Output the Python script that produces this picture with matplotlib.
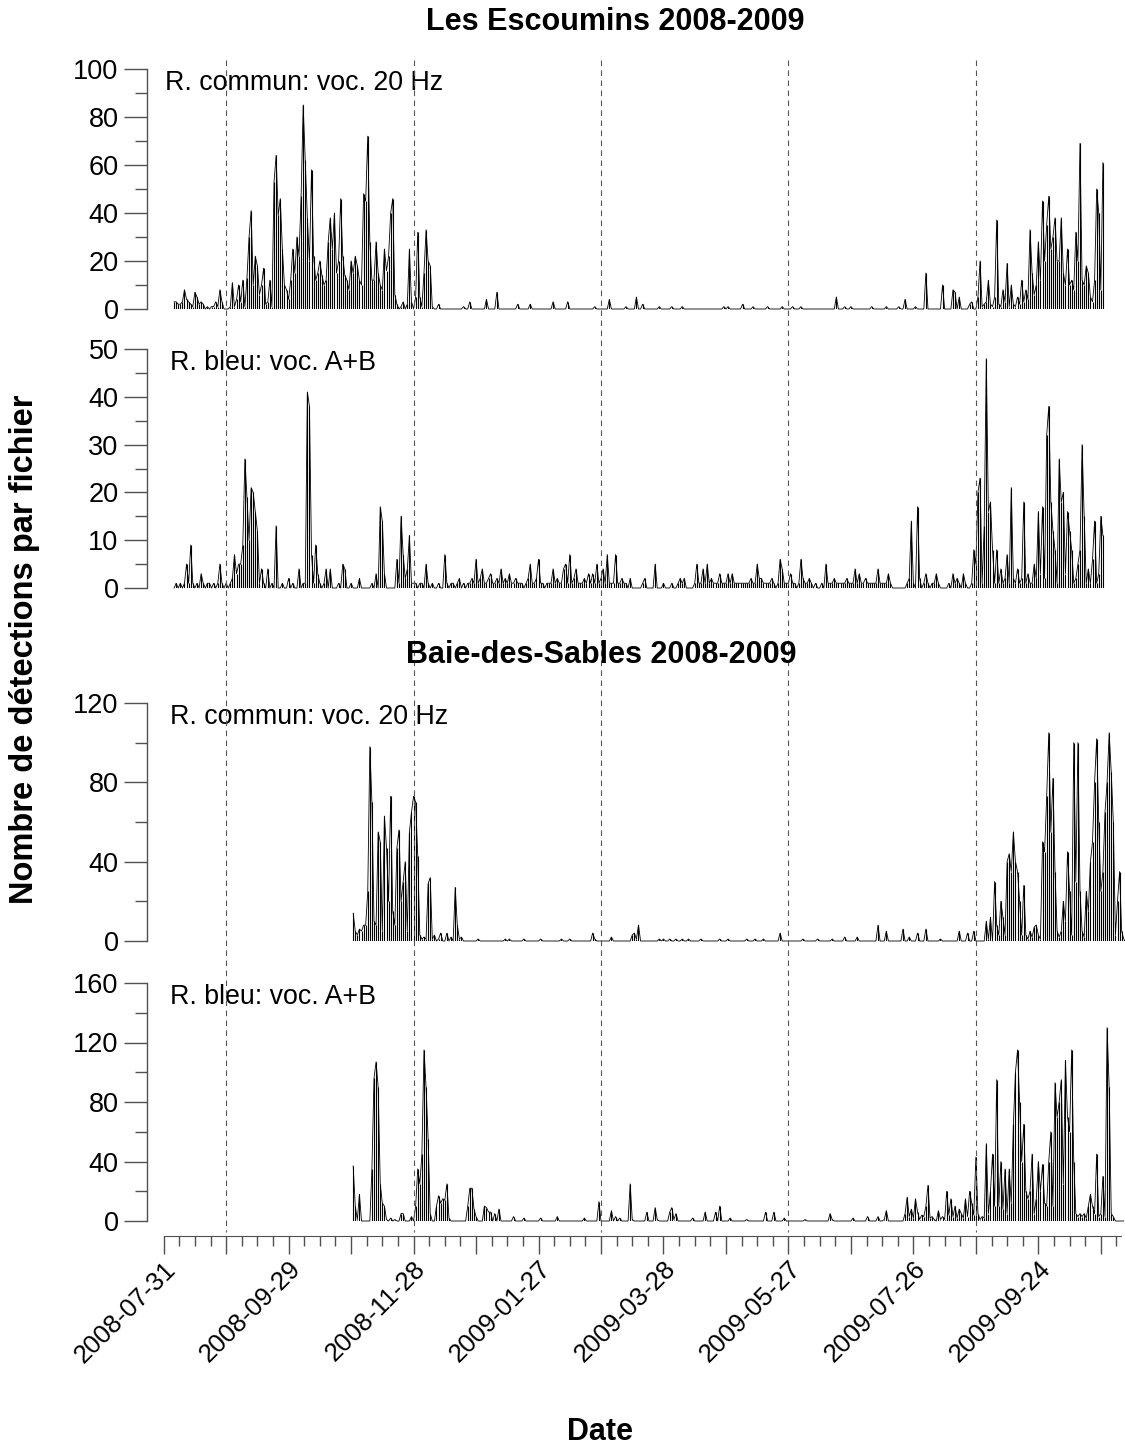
import datetime as dt
import numpy as np
import matplotlib
matplotlib.use("Agg")
import matplotlib.pyplot as plt
import matplotlib.transforms as mtransforms
from matplotlib.lines import Line2D
from matplotlib.ticker import MultipleLocator, FixedLocator, FuncFormatter

plt.rcParams["font.family"] = ["Liberation Sans", "DejaVu Sans"]

start_date = dt.date(2008, 7, 31)

# Les Escoumins: detections per file, one value per day from day 5 (2008-08-05)
esc_start = 5
esc_fin = [
    3, 3, 2, 2, 3, 8, 4, 3, 2, 1,
    7, 5, 2, 3, 2, 0, 1, 0, 1, 1,
    3, 1, 8, 3, 0, 0, 0, 1, 11, 1,
    4, 10, 3, 12, 1, 13, 30, 41, 10, 22,
    18, 6, 10, 17, 2, 3, 12, 1, 53, 64,
    39, 46, 25, 10, 8, 4, 12, 25, 15, 30,
    22, 47, 85, 62, 38, 20, 58, 22, 12, 15,
    20, 14, 10, 12, 28, 38, 25, 40, 15, 20,
    46, 22, 14, 12, 8, 20, 15, 22, 18, 12,
    10, 48, 45, 72, 28, 12, 12, 28, 15, 10,
    8, 25, 16, 22, 40, 46, 6, 2, 0, 1,
    3, 0, 2, 25, 3, 0, 5, 32, 5, 1,
    15, 33, 20, 18, 1, 0, 0, 2, 0, 0,
    0, 0, 0, 0, 0, 0, 0, 0, 0, 1,
    0, 0, 3, 0, 0, 0, 0, 0, 0, 0,
    4, 0, 0, 0, 0, 7, 0, 0, 0, 0,
    0, 0, 0, 0, 0, 2, 0, 0, 0, 0,
    0, 2, 0, 0, 0, 0, 0, 0, 0, 0,
    0, 0, 3, 0, 0, 0, 0, 0, 0, 3,
    0, 0, 0, 0, 0, 0, 0, 0, 0, 0,
    0, 0, 1, 0, 0, 0, 0, 0, 0, 4,
    0, 0, 0, 0, 0, 0, 0, 1, 0, 0,
    0, 0, 5, 0, 0, 2, 0, 0, 0, 0,
    0, 0, 0, 1, 0, 0, 0, 0, 0, 1,
    0, 0, 0, 0, 1, 0, 0, 0, 0, 0,
    0, 0, 0, 0, 0, 0, 0, 0, 0, 0,
    0, 0, 0, 0, 1, 0, 1, 0, 0, 0,
    0, 0, 0, 2, 0, 0, 0, 0, 1, 0,
    0, 0, 0, 0, 0, 1, 0, 0, 0, 0,
    0, 0, 1, 0, 0, 0, 0, 1, 0, 0,
    0, 1, 0, 0, 0, 0, 0, 0, 0, 0,
    0, 0, 0, 0, 0, 0, 0, 0, 5, 0,
    0, 0, 1, 0, 0, 1, 0, 0, 0, 0,
    0, 0, 0, 0, 0, 1, 0, 0, 0, 0,
    0, 0, 1, 0, 0, 0, 0, 0, 1, 0,
    0, 4, 0, 0, 0, 0, 1, 0, 0, 0,
    0, 15, 0, 0, 0, 0, 0, 0, 0, 10,
    0, 0, 0, 0, 8, 7, 0, 5, 0, 0,
    0, 0, 2, 3, 0, 0, 5, 20, 1, 2,
    3, 12, 2, 1, 5, 37, 2, 1, 8, 3,
    19, 1, 10, 2, 1, 5, 2, 12, 3, 8,
    4, 33, 15, 6, 10, 28, 12, 45, 20, 35,
    47, 25, 30, 38, 20, 20, 38, 15, 10, 25,
    10, 12, 8, 32, 20, 69, 12, 10, 18, 15,
    5, 3, 12, 50, 40, 8, 61,
]
esc_blue = [
    0, 1, 0, 1, 0, 1, 5, 1, 9, 1,
    0, 1, 0, 3, 1, 0, 1, 1, 0, 1,
    0, 1, 5, 1, 0, 1, 0, 1, 2, 7,
    3, 5, 5, 9, 27, 19, 10, 21, 20, 16,
    12, 1, 4, 1, 0, 4, 0, 1, 0, 13,
    0, 0, 1, 0, 0, 2, 0, 1, 0, 0,
    4, 0, 1, 1, 41, 38, 7, 1, 9, 3,
    1, 0, 1, 4, 0, 4, 0, 0, 0, 1,
    0, 5, 4, 0, 0, 1, 0, 0, 0, 2,
    0, 0, 0, 0, 0, 1, 0, 3, 0, 17,
    14, 3, 0, 0, 0, 0, 0, 6, 1, 15,
    7, 2, 4, 11, 1, 1, 1, 0, 1, 1,
    0, 5, 1, 0, 1, 0, 0, 1, 0, 0,
    7, 1, 0, 1, 1, 0, 1, 2, 0, 1,
    0, 1, 1, 2, 1, 6, 1, 2, 4, 1,
    1, 2, 3, 1, 1, 2, 1, 4, 1, 2,
    1, 3, 1, 1, 2, 1, 1, 1, 0, 1,
    2, 5, 1, 1, 2, 6, 1, 1, 0, 1,
    1, 1, 4, 1, 2, 1, 1, 4, 5, 1,
    7, 1, 2, 4, 1, 1, 1, 2, 1, 3,
    1, 3, 1, 5, 1, 2, 4, 1, 7, 1,
    1, 1, 7, 1, 1, 2, 1, 1, 0, 2,
    0, 0, 0, 0, 0, 1, 2, 0, 0, 0,
    0, 5, 0, 0, 0, 1, 0, 0, 0, 1,
    0, 0, 1, 2, 1, 2, 0, 0, 0, 0,
    1, 5, 1, 1, 4, 1, 5, 1, 2, 1,
    1, 1, 3, 1, 1, 1, 3, 1, 3, 1,
    1, 1, 1, 1, 1, 1, 1, 2, 1, 1,
    5, 2, 2, 1, 1, 1, 1, 2, 1, 0,
    1, 6, 4, 1, 1, 1, 3, 1, 1, 0,
    1, 6, 2, 1, 1, 2, 1, 0, 1, 0,
    0, 1, 0, 5, 1, 1, 1, 2, 1, 1,
    1, 1, 1, 2, 1, 1, 1, 4, 1, 3,
    1, 1, 2, 1, 1, 1, 1, 1, 4, 1,
    1, 1, 1, 3, 1, 0, 0, 0, 0, 0,
    0, 0, 1, 2, 14, 1, 0, 17, 2, 0,
    1, 3, 1, 0, 1, 1, 3, 1, 0, 0,
    0, 0, 1, 0, 3, 1, 2, 1, 0, 3,
    1, 0, 0, 1, 8, 5, 20, 23, 1, 13,
    48, 16, 18, 8, 1, 8, 1, 4, 1, 2,
    7, 1, 21, 2, 1, 4, 1, 2, 18, 1,
    3, 1, 1, 5, 2, 16, 3, 17, 2, 32,
    38, 18, 12, 8, 1, 27, 18, 20, 3, 16,
    12, 8, 1, 2, 5, 8, 30, 15, 1, 4,
    1, 6, 14, 1, 3, 15, 11,
]

# Baie-des-Sables: one value per day from day 91 (2008-10-30)
bds_start = 91
bds_fin = [
    14, 5, 3, 6, 5, 8, 8, 25, 98, 70,
    10, 8, 55, 50, 5, 63, 47, 20, 73, 15,
    8, 47, 56, 20, 30, 40, 5, 55, 65, 73,
    70, 43, 3, 1, 2, 1, 29, 32, 1, 3,
    0, 1, 4, 0, 0, 4, 0, 2, 0, 27,
    8, 1, 2, 0, 0, 0, 0, 0, 0, 0,
    1, 0, 0, 0, 0, 0, 0, 0, 0, 0,
    0, 0, 0, 1, 0, 1, 0, 0, 0, 0,
    0, 0, 1, 0, 0, 0, 0, 0, 0, 0,
    1, 0, 0, 0, 0, 0, 0, 0, 0, 0,
    1, 0, 0, 0, 1, 0, 0, 0, 0, 0,
    0, 0, 0, 0, 0, 4, 1, 0, 0, 0,
    0, 0, 0, 0, 2, 0, 0, 0, 0, 0,
    0, 0, 0, 0, 3, 4, 1, 8, 0, 0,
    0, 0, 0, 0, 0, 0, 0, 1, 0, 1,
    0, 0, 1, 0, 0, 1, 0, 0, 1, 0,
    0, 1, 0, 0, 0, 0, 0, 1, 0, 0,
    0, 0, 0, 0, 0, 0, 1, 0, 0, 0,
    1, 0, 0, 0, 0, 0, 0, 0, 0, 1,
    0, 0, 0, 1, 0, 0, 0, 1, 0, 0,
    0, 0, 0, 0, 0, 4, 0, 0, 0, 0,
    0, 0, 0, 0, 0, 0, 1, 0, 0, 0,
    0, 0, 0, 1, 0, 0, 0, 0, 0, 0,
    1, 0, 0, 0, 0, 0, 2, 0, 0, 0,
    0, 0, 2, 0, 0, 0, 0, 0, 0, 0,
    0, 0, 8, 0, 0, 0, 5, 0, 0, 0,
    0, 0, 0, 0, 6, 0, 0, 2, 0, 0,
    0, 4, 0, 0, 0, 6, 0, 0, 0, 0,
    0, 0, 1, 0, 0, 0, 0, 0, 0, 0,
    0, 5, 0, 0, 0, 4, 0, 0, 5, 0,
    0, 0, 0, 0, 10, 1, 12, 0, 30, 8,
    3, 20, 12, 3, 40, 44, 35, 55, 40, 35,
    20, 3, 28, 3, 1, 5, 2, 7, 8, 3,
    1, 50, 45, 73, 105, 55, 82, 35, 5, 2,
    5, 20, 10, 45, 25, 3, 100, 30, 100, 25,
    5, 2, 25, 15, 40, 50, 80, 102, 60, 25,
    35, 65, 80, 105, 85, 60, 3, 20, 35, 5, 1,
]
bds_blue = [
    37, 10, 1, 18, 0, 0, 0, 0, 0, 35,
    96, 107, 90, 25, 12, 10, 1, 0, 2, 0,
    1, 0, 0, 5, 5, 0, 0, 0, 3, 0,
    10, 35, 25, 45, 115, 90, 55, 5, 0, 0,
    10, 17, 12, 15, 14, 25, 2, 0, 0, 0,
    0, 0, 0, 0, 0, 10, 22, 22, 8, 3,
    0, 0, 0, 10, 9, 6, 6, 0, 5, 0,
    8, 0, 0, 0, 0, 0, 0, 3, 0, 0,
    0, 0, 2, 0, 0, 0, 0, 0, 0, 0,
    2, 0, 0, 0, 0, 0, 0, 0, 3, 0,
    0, 0, 0, 0, 0, 0, 0, 0, 0, 0,
    0, 2, 0, 0, 0, 0, 0, 0, 13, 0,
    0, 0, 0, 0, 7, 0, 3, 0, 2, 0,
    0, 0, 0, 25, 1, 0, 0, 0, 0, 0,
    0, 6, 0, 0, 0, 9, 1, 0, 0, 0,
    0, 0, 6, 9, 1, 5, 0, 0, 0, 0,
    0, 0, 0, 2, 0, 0, 0, 0, 0, 6,
    0, 0, 0, 0, 6, 0, 10, 0, 0, 0,
    0, 2, 0, 0, 0, 0, 0, 0, 0, 1,
    0, 0, 0, 0, 0, 0, 0, 0, 6, 0,
    0, 0, 6, 0, 0, 0, 0, 2, 0, 0,
    0, 0, 0, 0, 0, 0, 0, 1, 0, 0,
    0, 0, 0, 0, 0, 0, 0, 0, 0, 5,
    1, 0, 0, 0, 0, 0, 0, 0, 0, 0,
    2, 0, 0, 0, 0, 0, 0, 3, 0, 0,
    0, 0, 3, 0, 0, 1, 7, 0, 0, 0,
    0, 0, 0, 0, 0, 5, 16, 3, 8, 2,
    15, 6, 1, 4, 3, 10, 24, 2, 3, 1,
    0, 7, 1, 3, 1, 20, 4, 15, 3, 10,
    2, 8, 5, 2, 15, 3, 20, 12, 4, 43,
    5, 1, 3, 2, 52, 5, 20, 45, 10, 95,
    10, 40, 8, 35, 5, 35, 12, 65, 100, 115,
    80, 40, 65, 20, 15, 20, 45, 5, 15, 40,
    20, 38, 12, 10, 40, 60, 10, 93, 70, 80,
    95, 25, 108, 70, 60, 115, 40, 5, 3, 5,
    3, 5, 2, 10, 18, 10, 5, 45, 3, 5,
    30, 3, 130, 90, 5, 3, 0, 0, 0, 0, 0,
]

# every 90 days (dashed markers)
season_days = [30, 120, 210, 300, 390]

W, H = 1125, 1447
fig = plt.figure(figsize=(W / 100, H / 100), dpi=100)


def px_axes(left, top, right, bottom):
    return fig.add_axes([left / W, 1 - bottom / H, (right - left) / W, (bottom - top) / H])


xlim = (-8.0, 461.6)
axis_grey = "#505050"

panels = [
    (esc_fin, esc_start, 100, 20, 10, "R. commun: voc. 20 Hz", (69, 309), 165),
    (esc_blue, esc_start, 50, 10, 5, "R. bleu: voc. A+B", (349, 588), 170),
    (bds_fin, bds_start, 120, 40, 20, "R. commun: voc. 20 Hz", (703, 941), 170),
    (bds_blue, bds_start, 160, 40, 20, "R. bleu: voc. A+B", (983, 1221), 170),
]

axes = []
for vals, start, ymax, major, minor, label, (top, bottom), lab_x in panels:
    ax = px_axes(147, top, 1125, bottom)
    days = start + np.arange(len(vals))
    ax.plot(days, vals, color="black", lw=0.6, clip_on=False, zorder=3)
    ax.vlines(days, 0, vals, color="black", lw=0.8, zorder=3)
    ax.set_xlim(xlim)
    ax.set_ylim(0, ymax)
    for s in ["top", "right", "bottom"]:
        ax.spines[s].set_visible(False)
    ax.spines["left"].set_color(axis_grey)
    ax.spines["left"].set_linewidth(1.0)
    ax.set_xticks([])
    ax.yaxis.set_major_locator(MultipleLocator(major))
    ax.yaxis.set_minor_locator(MultipleLocator(minor))
    ax.tick_params(axis="y", which="major", length=16.5, width=1, color=axis_grey,
                   labelsize=19.5, pad=4)
    ax.tick_params(axis="y", which="minor", length=8.3, width=1, color=axis_grey)
    ax.patch.set_visible(False)
    ax.text((lab_x - 147) / 978, 1 - 14 / (bottom - top), label, transform=ax.transAxes,
            ha="left", va="center", fontsize=19.3)
    axes.append(ax)

# date axis under the panels
axd = px_axes(147, 1235, 1125, 1236)
axd.set_xlim(xlim)
axd.set_yticks([])
for s in ["top", "left", "right"]:
    axd.spines[s].set_visible(False)
axd.spines["bottom"].set_bounds(0, 459.6)
axd.spines["bottom"].set_color(axis_grey)
axd.patch.set_visible(False)
axd.xaxis.set_major_locator(MultipleLocator(30))
axd.xaxis.set_minor_locator(FixedLocator(np.arange(0, 460, 7.5)))


def date_label(v, pos):
    d = int(round(v))
    if d % 60 != 0:
        return ""
    return (start_date + dt.timedelta(days=d)).isoformat()


axd.xaxis.set_major_formatter(FuncFormatter(date_label))
axd.tick_params(axis="x", which="major", length=13, width=1, color=axis_grey,
                labelsize=18.5, pad=2)
axd.tick_params(axis="x", which="minor", length=7, width=1, color=axis_grey)
for t in axd.get_xticklabels():
    t.set_rotation(45)
    t.set_ha("right")
    t.set_va("top")
    t.set_rotation_mode("anchor")

# dashed 90-day markers across all panels
trans = mtransforms.blended_transform_factory(axes[0].transData, fig.transFigure)
for d in season_days:
    fig.add_artist(Line2D([d, d], [1 - 60 / H, 1 - 1232 / H], transform=trans,
                          color="#555555", lw=0.8, linestyle=(0, (5, 4)), zorder=1))

fig.text(615 / W, 1 - 22 / H, "Les Escoumins 2008-2009", ha="center", va="center",
         fontsize=22, fontweight="bold")
fig.text(601 / W, 1 - 655 / H, "Baie-des-Sables 2008-2009", ha="center", va="center",
         fontsize=22, fontweight="bold")
fig.text(25 / W, 1 - 649 / H, "Nombre de détections par fichier", rotation=90,
         ha="center", va="center", fontsize=23.5, fontweight="bold")
fig.text(600 / W, 1 - 1432 / H, "Date", ha="center", va="center",
         fontsize=22, fontweight="bold")

fig.savefig("out.png", dpi=100)
